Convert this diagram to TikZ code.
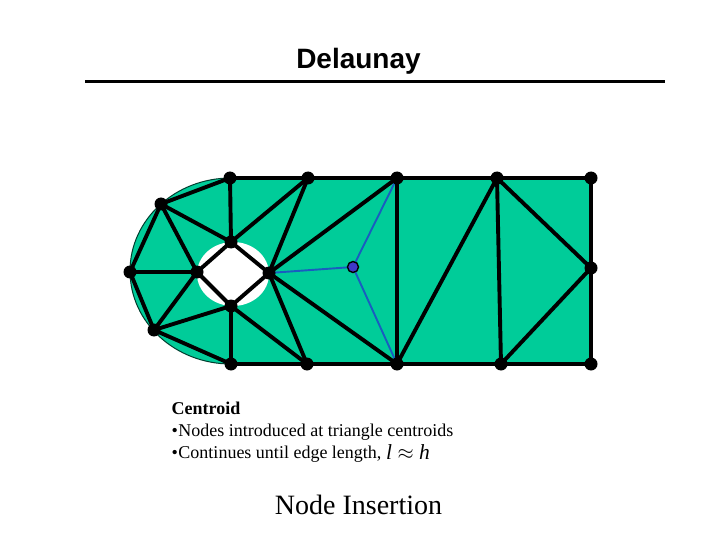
\documentclass[tikz,border=0pt]{standalone}
\usepackage{fontspec}
\setmainfont{Liberation Serif}
\newfontfamily\arialfont{Liberation Sans}
\definecolor{mgreen}{HTML}{00CC99}
\definecolor{eblue}{HTML}{1A5CC0}
\definecolor{cblue}{HTML}{4038C8}
\pgfdeclarelayer{under}
\pgfdeclarelayer{lines}
\pgfsetlayers{under,lines,main}
\tikzset{
  mnode/.style={circle,fill=black,draw=none,minimum size=13pt,inner sep=0pt},
  cnode/.style={circle,fill=cblue,draw=black,line width=1.4pt,minimum size=11pt,inner sep=0pt},
  edge/.style={line width=3.9pt,line cap=round},
  bedge/.style={line width=1.9pt,draw=eblue},
  txt/.style={anchor=base west,inner sep=0pt,font=\fontsize{18}{18}\selectfont}
}
\begin{document}
\begin{tikzpicture}[x=1pt,y=-1pt]
\useasboundingbox (0,0) rectangle (720,540);
% title
\node[anchor=base,inner sep=0pt,font=\arialfont\bfseries\fontsize{28}{28}\selectfont] (title) at (358.5,68.5) {Delaunay};
\coordinate (tl) at (85,82);
\coordinate (tr) at (665,82);
\draw[line width=3pt] (tl) -- (tr);
% mesh nodes
\foreach \n/\x/\y in {a/230/178,b/308/178,l/397/178,m/497/178,n/591/178,o/591/268,p/591/364,q/501/364,r/397/364,k/307/364,j/231/364,c/161/204,d/231/242,e/130/272,f/197/272,g/269/273,h/231/306,i/154/330}
  \node[mnode] (\n) at (\x,\y) {};
\node[cnode] (s) at (353,267) {};
\begin{pgfonlayer}{under}
\fill[white] (0,0) rectangle (720,540);
\fill[mgreen,draw=black!70!mgreen,line width=1pt] (231,178) -- (591,178) -- (591,364) -- (231,364)
  arc[start angle=90,end angle=270,x radius=101,y radius=93] -- cycle;
\fill[white] (233,274) ellipse[x radius=36,y radius=32];
\end{pgfonlayer}
\begin{pgfonlayer}{lines}
\foreach \u/\v in {a/b,b/l,l/m,m/n,n/o,o/p,p/q,q/r,r/k,k/j,j/i,i/e,e/c,c/a,c/d,a/d,d/b,c/f,e/f,i/f,i/h,j/h,h/k,g/k,g/r,g/l,g/b,d/g,g/h,h/f,f/d,l/r,r/m,m/q,m/o,q/o}
  \draw[edge] (\u.center) -- (\v.center);
\foreach \u in {g,l,r}
  \draw[bedge] (\u.center) -- (s.center);
\end{pgfonlayer}
% text
\node[txt] (t1) at (171.5,414) {\bfseries Centroid};
\node[txt] (t2) at (171.5,436.5) {\textbullet\hspace{0.5pt}Nodes introduced at triangle centroids};
\node[txt] (t3) at (171.5,458) {\textbullet\hspace{0.5pt}Continues until edge length,};
\node[anchor=base west,inner sep=0pt,font=\fontsize{21.5}{22}\selectfont] (t4) at (386,459) {\textit{l} $\approx$ \textit{h}};
\node[anchor=base,inner sep=0pt,font=\fontsize{28}{28}\selectfont] (t5) at (358.5,514) {Node Insertion};
\end{tikzpicture}
\end{document}
